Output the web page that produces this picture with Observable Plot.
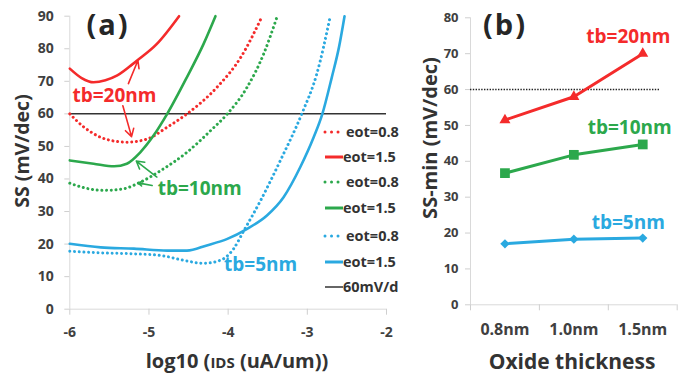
<!DOCTYPE html>
<html><head><meta charset="utf-8">
<script src="https://cdn.jsdelivr.net/npm/d3@7"></script>
<script src="https://cdn.jsdelivr.net/npm/@observablehq/plot@0.6"></script>
<style>
body{margin:0;background:#fff;}
#wrap{position:relative;width:681px;height:376px;overflow:hidden;background:#fff;font-family:"Open Sans",sans-serif;}
#wrap .p{position:absolute;top:0;}
#overlay{position:absolute;left:0;top:0;pointer-events:none;}
</style></head><body><div id="wrap"></div>
<script>
const RED = "#f42b2b", GREEN = "#2ca84c", BLUE = "#2aa9e0";

// ---------- Panel (a): SS vs log10(IDS) ----------
const xTicksA = [-6, -5, -4, -3, -2];
const yTicksA = [0, 10, 20, 30, 40, 50, 60, 70, 80, 90];
const tb20_eot08 = [[-6,60],[-5.82,55.9],[-5.61,52.8],[-5.4,51.5],[-5.28,51.3],[-5.02,52.3],[-4.77,55.9],[-4.52,60],[-4.14,68.2],[-3.84,77.4],[-3.57,90]];
const tb20_eot15 = [[-6,73.9],[-5.85,71],[-5.7,69.7],[-5.55,70.3],[-5.4,71.8],[-5.15,76.4],[-4.9,81.5],[-4.62,90]];
const tb10_eot08 = [[-6,38.7],[-5.82,37.3],[-5.57,36.5],[-5.32,37],[-5.11,39],[-4.85,42.6],[-4.52,48.2],[-4.22,54.9],[-4.01,60],[-3.76,68.2],[-3.55,78.5],[-3.38,90]];
const tb10_eot15 = [[-6,45.7],[-5.7,44.7],[-5.44,43.9],[-5.28,44.7],[-5.11,48.2],[-4.94,53.4],[-4.77,60],[-4.52,71.3],[-4.31,81.5],[-4.16,90]];
const tb5_eot08 = [[-6,17.8],[-5.61,17.3],[-5.19,17.0],[-4.85,16.5],[-4.56,15.0],[-4.31,14.1],[-4.1,15.0],[-3.93,18.6],[-3.8,24.2],[-3.59,33.4],[-3.34,45.7],[-3.07,60],[-2.88,72.3],[-2.71,90]];
const tb5_eot15 = [[-6,20.1],[-5.61,19.0],[-5.19,18.6],[-4.77,18.0],[-4.52,18.0],[-4.27,19.6],[-4.01,21.6],[-3.76,24.7],[-3.51,28.8],[-3.3,34.4],[-3.09,43.6],[-2.92,52.8],[-2.81,60],[-2.69,71.3],[-2.6,80.5],[-2.53,90]];
const refLevel = [60];
const labelsA = [
  {x: -5.436, y: 65.6, text: "tb=20nm", c: RED},
  {x: -4.36, y: 36.8, text: "tb=10nm", c: GREEN},
  {x: -3.59, y: 13.7, text: "tb=5nm", c: BLUE}
];
const arrowsRed = [
  {x1: -5.26, y1: 69.3, x2: -5.14, y2: 76.4},
  {x1: -5.33, y1: 62.5, x2: -5.22, y2: 53.0}
];
const arrowsGreen = [
  {x1: -4.90, y1: 40.6, x2: -5.16, y2: 45.5},
  {x1: -4.96, y1: 38.0, x2: -5.14, y2: 38.8}
];
const legendA = [
  {label: "eot=0.8", c: RED, dotted: true},
  {label: "eot=1.5", c: RED, dotted: false},
  {label: "eot=0.8", c: GREEN, dotted: true},
  {label: "eot=1.5", c: GREEN, dotted: false},
  {label: "eot=0.8", c: BLUE, dotted: true},
  {label: "eot=1.5", c: BLUE, dotted: false},
  {label: "60mV/d", c: "#333", dotted: false, thin: true}
];

// ---------- Panel (b): SS-min vs oxide thickness ----------
const oxideLabels = ["0.8nm", "1.0nm", "1.5nm"];
const yTicksB = [0, 10, 20, 30, 40, 50, 60, 70, 80];
const tb20Min = [51.5, 58, 70];
const tb10Min = [36.7, 41.8, 44.7];
const tb5Min = [17, 18.3, 18.6];
const labelsB = [
  {x: 1.79, y: 74.8, text: "tb=20nm", c: RED},
  {x: 1.81, y: 49.4, text: "tb=10nm", c: GREEN},
  {x: 1.79, y: 22.9, text: "tb=5nm", c: BLUE}
];

const pts = a => a.map(([x, y]) => ({x, y}));
const dotted = {strokeWidth: 3, strokeDasharray: "0.01 4.7", strokeLinecap: "round"};
const solid = {strokeWidth: 2.6};
const axisStyle = {fontFamily: "'Open Sans', sans-serif", fontSize: "14px", fontWeight: "bold", color: "#404040", background: "transparent", overflow: "visible"};

const chartA = Plot.plot({
  width: 420, height: 345,
  marginLeft: 69.3, marginRight: 34, marginTop: 15.7, marginBottom: 36.3,
  x: {domain: [-6, -2]},
  y: {domain: [0, 90]},
  style: axisStyle,
  marks: [
    Plot.ruleX([-6], {stroke: "#d9d9d9"}),
    Plot.ruleY([0], {stroke: "#d9d9d9"}),
    Plot.axisY({ticks: yTicksA, tickSize: 5, tickPadding: 11, stroke: "#cfcfcf", fill: "#404040", label: null}),
    Plot.axisX({ticks: xTicksA, tickSize: 6, tickPadding: 12, stroke: "#cfcfcf", fill: "#404040", label: null, tickFormat: d => String(d)}),
    Plot.ruleY(refLevel, {stroke: "#333", strokeWidth: 1.5}),
    Plot.line(pts(tb20_eot08), {x: "x", y: "y", stroke: RED, curve: "monotone-x", ...dotted}),
    Plot.line(pts(tb20_eot15), {x: "x", y: "y", stroke: RED, curve: "monotone-x", ...solid}),
    Plot.line(pts(tb10_eot08), {x: "x", y: "y", stroke: GREEN, curve: "monotone-x", ...dotted}),
    Plot.line(pts(tb10_eot15), {x: "x", y: "y", stroke: GREEN, curve: "monotone-x", ...solid}),
    Plot.line(pts(tb5_eot08), {x: "x", y: "y", stroke: BLUE, curve: "monotone-x", ...dotted}),
    Plot.line(pts(tb5_eot15), {x: "x", y: "y", stroke: BLUE, curve: "monotone-x", ...solid}),
    Plot.arrow(arrowsRed, {x1: "x1", y1: "y1", x2: "x2", y2: "y2", stroke: RED, strokeWidth: 1.6, headLength: 8}),
    Plot.arrow(arrowsGreen, {x1: "x1", y1: "y1", x2: "x2", y2: "y2", stroke: GREEN, strokeWidth: 1.6, headLength: 8}),
    Plot.text(labelsA, {x: "x", y: "y", text: "text", fill: d => d.c, fontSize: 19, fontWeight: "bold"})
  ]
});
chartA.classList.add("p");
chartA.style.left = "0px";

const dataB = (vals) => vals.map((v, i) => ({i, v}));
const chartB = Plot.plot({
  width: 266, height: 345,
  marginLeft: 55, marginRight: 4.3, marginTop: 17.3, marginBottom: 40.7,
  x: {domain: [-0.5, 2.5]},
  y: {domain: [0, 80]},
  style: axisStyle,
  marks: [
    Plot.ruleX([-0.5], {stroke: "#d9d9d9"}),
    Plot.ruleY([0], {stroke: "#d9d9d9"}),
    Plot.axisY({ticks: yTicksB, tickSize: 5, tickPadding: 7, stroke: "#cfcfcf", fill: "#404040", label: null, fontSize: 13}),
    Plot.axisX({ticks: [-0.5, 0.5, 1.5, 2.5], tickSize: 6, stroke: "#cfcfcf", fill: "none", label: null, tickFormat: () => ""}),
    Plot.axisX({ticks: [0, 1, 2], tickSize: 0, tickPadding: 19, fill: "#404040", label: null, tickFormat: i => oxideLabels[i], fontSize: 16}),
    Plot.ruleY(refLevel, {stroke: "#222", strokeWidth: 1.4, strokeDasharray: "1.4 1.4", insetRight: 16.7}),
    Plot.line(dataB(tb20Min), {x: "i", y: "v", stroke: RED, strokeWidth: 3}),
    Plot.dot(dataB(tb20Min), {x: "i", y: "v", symbol: "triangle", r: 4.1, fill: RED}),
    Plot.line(dataB(tb10Min), {x: "i", y: "v", stroke: GREEN, strokeWidth: 3}),
    Plot.dot(dataB(tb10Min), {x: "i", y: "v", symbol: "square", r: 5.5, fill: GREEN}),
    Plot.line(dataB(tb5Min), {x: "i", y: "v", stroke: BLUE, strokeWidth: 3}),
    Plot.dot(dataB(tb5Min), {x: "i", y: "v", symbol: "diamond2", r: 4.2, fill: BLUE}),
    Plot.text(labelsB, {x: "x", y: "y", text: "text", fill: d => d.c, fontSize: 19, fontWeight: "bold"})
  ]
});
chartB.classList.add("p");
chartB.style.left = "415px";

const wrap = document.getElementById("wrap");
wrap.appendChild(chartA);
wrap.appendChild(chartB);

// ---------- overlay: titles, panel labels, legend ----------
const ov = d3.select(wrap).append("svg").attr("id", "overlay").attr("width", 681).attr("height", 376)
  .style("font-family", "'Open Sans', sans-serif").style("font-weight", "bold");

ov.append("text").attr("transform", "translate(29,151) rotate(-90)").attr("text-anchor", "middle")
  .attr("font-size", 19.5).attr("fill", "#333").text("SS (mV/dec)");
ov.append("text").attr("transform", "translate(437,138) rotate(-90)").attr("text-anchor", "middle")
  .attr("font-size", 20).attr("fill", "#333").text("SS-min (mV/dec)");
const xt = ov.append("text").attr("x", 237).attr("y", 368).attr("text-anchor", "middle").attr("font-size", 20).attr("fill", "#333");
xt.append("tspan").text("log10 (");
xt.append("tspan").attr("font-size", 15).text("IDS");
xt.append("tspan").text(" (uA/um))");
ov.append("text").attr("x", 572).attr("y", 369).attr("text-anchor", "middle").attr("font-size", 21).attr("fill", "#333").text("Oxide thickness");
ov.append("text").attr("x", 108).attr("y", 35).attr("text-anchor", "middle").attr("font-size", 29).attr("letter-spacing", 2).attr("fill", "#262626").text("(a)");
ov.append("text").attr("x", 505).attr("y", 35).attr("text-anchor", "middle").attr("font-size", 29).attr("letter-spacing", 2).attr("fill", "#262626").text("(b)");

const legendRows = [132, 157, 182, 208, 236, 262, 287];
legendA.forEach((d, k) => {
  const y = legendRows[k];
  const ln = ov.append("line").attr("x1", 325).attr("x2", d.dotted ? 342 : 343).attr("y1", y).attr("y2", y)
    .attr("stroke", d.c).attr("stroke-width", d.thin ? 1.5 : 3);
  if (d.dotted) ln.attr("stroke-dasharray", "0.01 6.5").attr("stroke-linecap", "round").attr("stroke-width", 3);
  ov.append("text").attr("x", d.dotted ? 346 : 343).attr("y", y).attr("dy", "0.35em").attr("font-size", 14.5)
    .attr("fill", "#333").text(d.label);
});
</script></body></html>
